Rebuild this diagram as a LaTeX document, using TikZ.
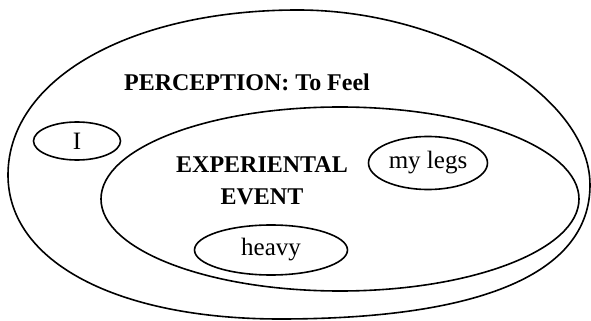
\documentclass[tikz,border=0pt]{standalone}
\usepackage{fontspec}
\setmainfont{Liberation Serif}
\usetikzlibrary{positioning, shapes.geometric}

\begin{document}
\begin{tikzpicture}[
    x=0.5pt, y=-0.5pt, % one unit = one pixel of the sketch
    line/.style={line width=0.8pt},
    blob/.style={
        draw,
        ellipse,
        line,
        inner sep=0pt
    },
    word/.style={blob, font=\fontsize{12.5}{14}\selectfont},
    title/.style={font=\fontsize{12}{15}\selectfont\bfseries, align=center}
]
\useasboundingbox (0,0) rectangle (591,321);

% Outer region (egg shaped, bulging to the lower right)
\coordinate (top) at (298,10);
\coordinate (right) at (590,185);
\coordinate (bottom) at (280,319);
\coordinate (left) at (8,175);
\draw[line] (top) .. controls (445,10) and (590,95) .. (right)
    .. controls (590,273) and (482,319) .. (bottom)
    .. controls (117,319) and (8,262) .. (left)
    .. controls (8,79) and (130,10) .. (top) -- cycle;

% Inner region
\node[blob, minimum width=239pt, minimum height=92pt] (experience) at (340,199) {};

% Headings
\node[title] (perceptionlabel) at (247,82) {PERCEPTION: To Feel};
\node[title] (experiencelabel) at (262,181) {EXPERIENTAL\\[1pt]EVENT};

% Participants
\node[word, minimum width=43.5pt, minimum height=19pt] (me) at (77,141) {I};
\node[word, minimum width=59.5pt, minimum height=26.5pt] (legs) at (428,163) {my legs};
\node[word, minimum width=76.5pt, minimum height=25pt] (heavy) at (271,250) {heavy};

\end{tikzpicture}
\end{document}
